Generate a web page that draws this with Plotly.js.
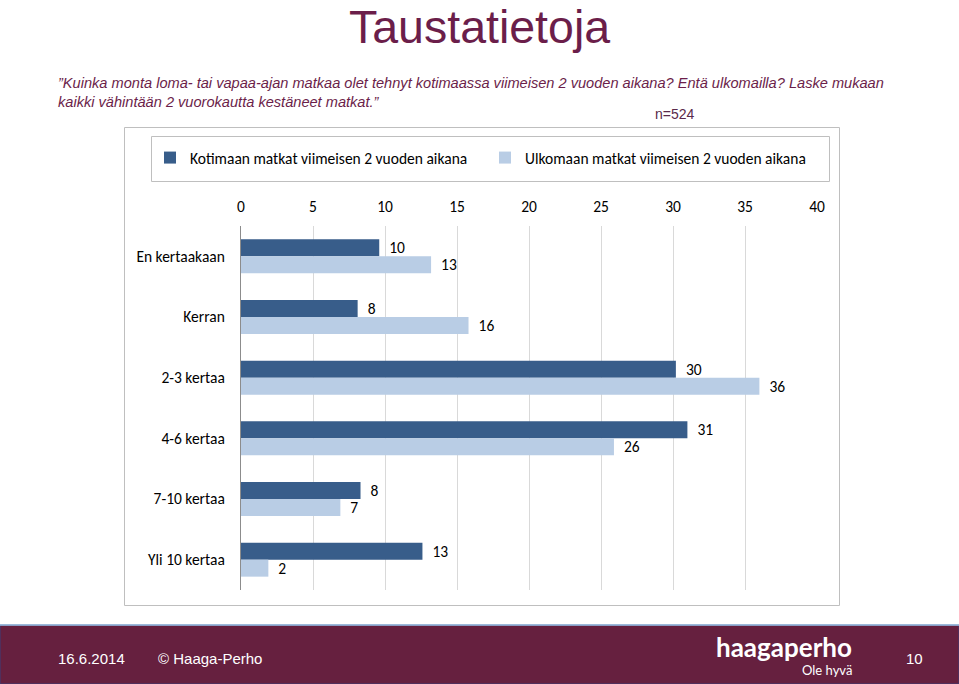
<!DOCTYPE html>
<html>
<head>
<meta charset="utf-8">
<script src="https://cdn.plot.ly/plotly-3.0.1.min.js"></script>
<style>
html,body{margin:0;padding:0;background:#fff;}
#chart{width:959px;height:684px;}
</style>
</head>
<body>
<div id="chart"></div>
<script>
const categories = ["En kertaakaan", "Kerran", "2-3 kertaa", "4-6 kertaa", "7-10 kertaa", "Yli 10 kertaa"];
const seriesNames = ["Kotimaan matkat viimeisen 2 vuoden aikana", "Ulkomaan matkat viimeisen 2 vuoden aikana"];
const kotimaa = [9.6, 8.1, 30.2, 31.0, 8.3, 12.6];
const ulkomaa = [13.2, 15.8, 36.0, 25.9, 6.9, 1.9];
const xTicks = [0, 5, 10, 15, 20, 25, 30, 35, 40];

const W = 959, H = 684;
const L = 241, R = 817, T = 226, B = 590;
const FONT = "Carlito, Lato, 'Open Sans', sans-serif";
const ARIAL = "Arial, 'Liberation Sans', sans-serif";
const FS = 15.5;

// pixel -> paper helpers (for decorations only)
const px = v => (v - L) / (R - L);
const py = v => (B - v) / (B - T);

const traces = [
  {type: "bar", orientation: "h", name: seriesNames[0], y: categories, x: kotimaa,
   marker: {color: "#385d8a"}, texttemplate: "\u00a0\u00a0%{x:.0f}", textposition: "outside",
   constraintext: "none",
   textfont: {family: FONT, size: FS, color: "#000"}, cliponaxis: false, hoverinfo: "x+y"},
  {type: "bar", orientation: "h", name: seriesNames[1], y: categories, x: ulkomaa,
   marker: {color: "#b9cde5"}, texttemplate: "\u00a0\u00a0%{x:.0f}", textposition: "outside",
   constraintext: "none",
   textfont: {family: FONT, size: FS, color: "#000"}, cliponaxis: false, hoverinfo: "x+y"}
];

const layout = {
  width: W, height: H,
  margin: {l: L, r: W - R, t: T, b: H - B, pad: 0},
  paper_bgcolor: "#fff", plot_bgcolor: "#fff",
  barmode: "group", bargap: 0.44, bargroupgap: 0,
  showlegend: true,
  legend: {orientation: "h", x: px(150), y: py(158), xanchor: "left", yanchor: "middle",
           font: {family: FONT, size: FS, color: "#000"}, bgcolor: "rgba(0,0,0,0)",
           entrywidth: 290, entrywidthmode: "pixels", traceorder: "normal"},
  xaxis: {side: "top", range: [0, 40], tickvals: xTicks, ticktext: xTicks.map(String),
          showgrid: true, gridcolor: "#d9d9d9", gridwidth: 1, zeroline: false,
          showline: false, ticks: "", ticklabelstandoff: 10,
          tickfont: {family: FONT, size: FS, color: "#000"}, fixedrange: true},
  yaxis: {autorange: "reversed", type: "category", showgrid: false, zeroline: false,
          showline: true, linecolor: "#8c8c8c", linewidth: 1, ticks: "", ticklabelstandoff: 12,
          tickfont: {family: FONT, size: FS, color: "#000"}, fixedrange: true},
  shapes: [
    {type: "rect", xref: "paper", yref: "paper", x0: px(124.5), x1: px(839.5), y0: py(127.5), y1: py(605.5),
     line: {color: "#bfbfbf", width: 1}, fillcolor: "rgba(0,0,0,0)", layer: "below"},
    {type: "rect", xref: "paper", yref: "paper", x0: px(151.5), x1: px(829.5), y0: py(136.5), y1: py(181.5),
     line: {color: "#bfbfbf", width: 1}, fillcolor: "rgba(0,0,0,0)", layer: "below"},
    {type: "rect", xref: "paper", yref: "paper", x0: px(0), x1: px(W), y0: py(625), y1: py(H),
     line: {color: "#3b3f7a", width: 1}, fillcolor: "#66203f", layer: "above"},
    {type: "line", xref: "paper", yref: "paper", x0: px(0), x1: px(W), y0: py(625), y1: py(625),
     line: {color: "#9dc3e6", width: 1.5}, layer: "above"}
  ],
  annotations: [
    {xref: "paper", yref: "paper", x: px(479), y: py(27), text: "Taustatietoja", showarrow: false,
     xanchor: "center", yanchor: "middle", borderpad: 0, font: {family: ARIAL, size: 46.5, color: "#6b1e4a"}},
    {xref: "paper", yref: "paper", x: px(56), y: py(92), align: "left", showarrow: false,
     xanchor: "left", yanchor: "middle",
     text: "<i>”Kuinka monta loma- tai vapaa-ajan matkaa olet tehnyt kotimaassa viimeisen 2 vuoden aikana? Entä ulkomailla? Laske mukaan<br>kaikki vähintään 2 vuorokautta kestäneet matkat.”</i>",
     font: {family: ARIAL, size: 14.6, color: "#6b1e4a"}},
    {xref: "paper", yref: "paper", x: px(675), y: py(114), text: "n=524", showarrow: false,
     xanchor: "center", yanchor: "middle", font: {family: ARIAL, size: 14, color: "#5a2a4a"}},
    {xref: "paper", yref: "paper", x: px(56), y: py(658), text: "16.6.2014", showarrow: false,
     xanchor: "left", yanchor: "middle", font: {family: ARIAL, size: 15, color: "#fff"}},
    {xref: "paper", yref: "paper", x: px(156), y: py(658), text: "© Haaga-Perho", showarrow: false,
     xanchor: "left", yanchor: "middle", font: {family: ARIAL, size: 15, color: "#fff"}},
    {xref: "paper", yref: "paper", x: px(853), y: py(647), text: "<b>haagaperho</b>", showarrow: false,
     xanchor: "right", yanchor: "middle", borderpad: 0, font: {family: "Lato, 'Open Sans', sans-serif", size: 26, color: "#fff"}},
    {xref: "paper", yref: "paper", x: px(853), y: py(670), text: "Ole hyvä", showarrow: false,
     xanchor: "right", yanchor: "middle", borderpad: 0, font: {family: "Lato, 'Open Sans', sans-serif", size: 13, color: "#fff"}},
    {xref: "paper", yref: "paper", x: px(914), y: py(658), text: "10", showarrow: false,
     xanchor: "center", yanchor: "middle", font: {family: ARIAL, size: 15, color: "#fff"}}
  ]
};

Plotly.newPlot("chart", traces, layout, {displayModeBar: false, staticPlot: true});
</script>
</body>
</html>
